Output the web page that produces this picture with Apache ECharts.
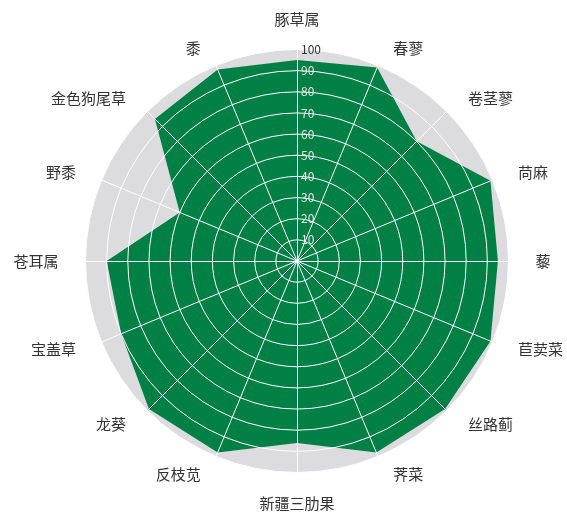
<!DOCTYPE html>
<html>
<head>
<meta charset="utf-8">
<script src="https://cdn.jsdelivr.net/npm/echarts@6/dist/echarts.min.js"></script>
<style>
    html, body { margin: 0; padding: 0; background: #fff; }
    #main { width: 567px; height: 515px; }
</style>
</head>
<body>
<div id="main"></div>
<script>
// 指标（自顶部起顺时针）
const names = ['豚草属', '春蓼', '卷茎蓼', '苘麻', '藜', '苣荬菜', '丝路蓟', '荠菜',
    '新疆三肋果', '反枝苋', '龙葵', '宝盖草', '苍耳属', '野黍', '金色狗尾草', '黍'];
const values = [95, 99, 80, 99, 95, 99, 99, 98, 86, 98, 99, 90, 90, 60, 95, 98];
const maxValue = 100;

// echarts 的雷达图是逆时针排列，这里换成顺时针
const order = [0];
for (let i = names.length - 1; i > 0; i--) {
    order.push(i);
}

const center = [297, 261];
const radius = 211.5;
const font = '"Noto Sans CJK SC", "Noto Sans", sans-serif';

let myChart = echarts.init(document.getElementById('main'));
myChart.setOption({
    animation: false,
    radar: [
        {
            // 底层：灰色背景和指标名
            shape: 'circle',
            center: center,
            radius: radius,
            splitNumber: 10,
            indicator: order.map((i) => ({ name: names[i], max: maxValue, min: 0 })),
            axisName: {
                color: '#333',
                fontSize: 15,
                fontFamily: font,
                padding: [4, 8]
            },
            nameGap: 19,
            splitArea: {
                show: true,
                areaStyle: { color: ['#dcdcde'] }
            },
            splitLine: { show: false },
            axisLine: { show: false },
            z: 1
        },
        {
            // 顶层：白色网格线和刻度
            shape: 'circle',
            center: center,
            radius: radius,
            splitNumber: 10,
            indicator: order.map((i, k) => ({
                name: '',
                max: maxValue,
                min: 0,
                axisLabel: { show: k === 0 }
            })),
            axisName: { show: false },
            splitArea: { show: false },
            splitLine: {
                lineStyle: { color: '#fff', width: 1 }
            },
            axisLine: {
                lineStyle: { color: '#fff', width: 1 }
            },
            axisLabel: {
                show: false,
                fontSize: 12,
                fontFamily: font,
                margin: -4,
                align: 'left',
                formatter: (v) => (v === 0 ? '' : (v === 100 ? '{d|' + v + '}' : '{w|' + v + '}')),
                rich: {
                    d: { color: '#333', fontSize: 12, fontFamily: font },
                    w: { color: '#e6e6e6', fontSize: 12, fontFamily: font }
                }
            },
            z: 3
        }
    ],
    series: [{
        type: 'radar',
        radarIndex: 0,
        z: 2,
        symbol: 'none',
        lineStyle: { width: 0 },
        areaStyle: { color: '#008045', opacity: 1 },
        data: [{ value: order.map((i) => values[i]) }]
    }]
});
</script>
</body>
</html>
